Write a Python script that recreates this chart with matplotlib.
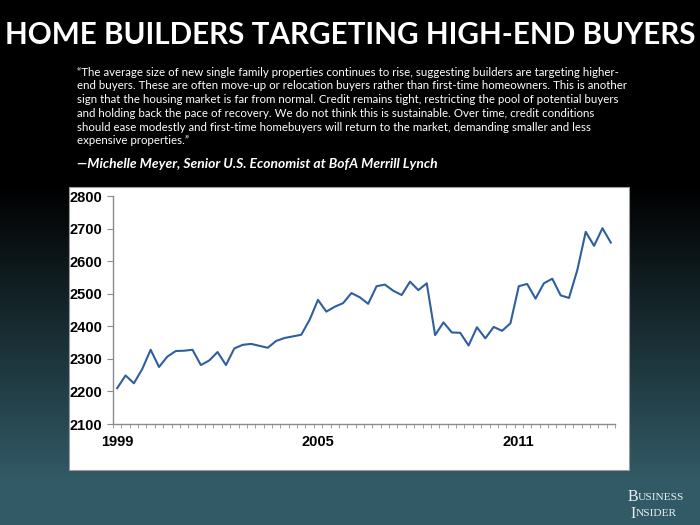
import numpy as np
import matplotlib.pyplot as plt
from matplotlib.patches import Rectangle

# average size of new single family homes, quarterly 1999 Q1 - 2013 Q4
sqft = [2210, 2249, 2225, 2269, 2328, 2275, 2307, 2324, 2325, 2328,
        2281, 2295, 2321, 2281, 2332, 2343, 2346, 2340, 2334, 2355,
        2364, 2369, 2374, 2420, 2481, 2445, 2460, 2471, 2502, 2489,
        2469, 2523, 2528, 2509, 2496, 2537, 2511, 2532, 2373, 2412,
        2381, 2380, 2341, 2397, 2363, 2398, 2386, 2409, 2523, 2530,
        2485, 2532, 2546, 2495, 2487, 2573, 2690, 2647, 2701, 2657]
year_labels = ['1999', '2005', '2011']
label_pos = [0, 24, 48]
yticks = [2100, 2200, 2300, 2400, 2500, 2600, 2700, 2800]

title = 'HOME BUILDERS TARGETING HIGH-END BUYERS'
quote_lines = [
    '\u201cThe average size of new single family properties continues to rise, suggesting builders are targeting higher-',
    'end buyers. These are often move-up or relocation buyers rather than first-time homeowners. This is another',
    'sign that the housing market is far from normal. Credit remains tight, restricting the pool of potential buyers',
    'and holding back the pace of recovery. We do not think this is sustainable. Over time, credit conditions',
    'should ease modestly and first-time homebuyers will return to the market, demanding smaller and less',
    'expensive properties.\u201d',
]
source = '\u2014Michelle Meyer, Senior U.S. Economist at BofA Merrill Lynch'

W, H = 700, 525
fig = plt.figure(figsize=(7, 5.25), dpi=100)

# background gradient: black at top, slate teal at bottom
bg = fig.add_axes([0, 0, 1, 1])
rows = np.arange(H)
t = np.clip((rows - 185) / (480 - 185), 0, 1)[:, None]
top = np.array([0, 0, 0])
bot = np.array([0x32, 0x5a, 0x66]) / 255
grad = top + t * (bot - top)
img = np.repeat(grad[:, None, :], 2, axis=1).reshape(H, 2, 3)
bg.imshow(img, aspect='auto', extent=[0, 1, 0, 1])
bg.set_axis_off()

# white chart panel
fig.patches.append(Rectangle((69 / W, 1 - 470 / H), (629 - 69) / W, (470 - 187) / H,
                             transform=fig.transFigure, facecolor='white',
                             edgecolor='#9a9a9a', linewidth=0.8, zorder=1))

fig.text(0.5, 1 - 35 / H, title, color='white', fontsize=21.3, family='Lato',
         weight='bold', ha='center', va='center')
for i, line in enumerate(quote_lines):
    fig.text(77 / W, 1 - (75.5 + 13.8 * i) / H, line, color='white', fontsize=8.3,
             family='Lato', ha='left', va='baseline')
fig.text(77 / W, 1 - 164 / H, source, color='white', fontsize=10, family='Lato',
         style='italic', weight='bold', ha='left', va='center')
fig.text(638 / W, 1 - 497 / H, 'B', color='#e8eef0', fontsize=11.5,
         family='Liberation Serif', ha='right', va='center')
fig.text(638 / W, 1 - 497 / H, 'USINESS', color='#e8eef0', fontsize=8.2,
         family='Liberation Serif', ha='left', va='center')
fig.text(636 / W, 1 - 514 / H, 'I', color='#e8eef0', fontsize=11.5,
         family='Liberation Serif', ha='right', va='center')
fig.text(636 / W, 1 - 514 / H, 'NSIDER', color='#e8eef0', fontsize=8.2,
         family='Liberation Serif', ha='left', va='center')

ax = fig.add_axes([113 / W, 1 - 424 / H, (615 - 113) / W, (424 - 196) / H], zorder=2)
ax.set_facecolor('none')
x = np.arange(len(sqft))
ax.plot(x, sqft, color='#2f5f9e', linewidth=1.5)
ax.set_xlim(-0.5, len(sqft) - 0.5)
ax.set_ylim(yticks[0], yticks[-1])
ax.set_yticks(yticks)
ax.set_xticks(label_pos)
ax.set_xticklabels(year_labels)
ax.set_xticks(np.arange(len(sqft) + 1) - 0.5, minor=True)
for s in ['top', 'right']:
    ax.spines[s].set_visible(False)
for s in ['left', 'bottom']:
    ax.spines[s].set_color('#8c8c8c')
    ax.spines[s].set_linewidth(1)
ax.tick_params(axis='y', length=4, color='#8c8c8c', pad=4, labelsize=10.5)
ax.tick_params(axis='x', which='major', length=0, pad=8, labelsize=10.5)
ax.tick_params(axis='x', which='minor', length=3, color='#8c8c8c')
for lab in ax.get_xticklabels() + ax.get_yticklabels():
    lab.set_family('Liberation Sans')
    lab.set_weight('bold')

fig.savefig('out.png', dpi=100)
